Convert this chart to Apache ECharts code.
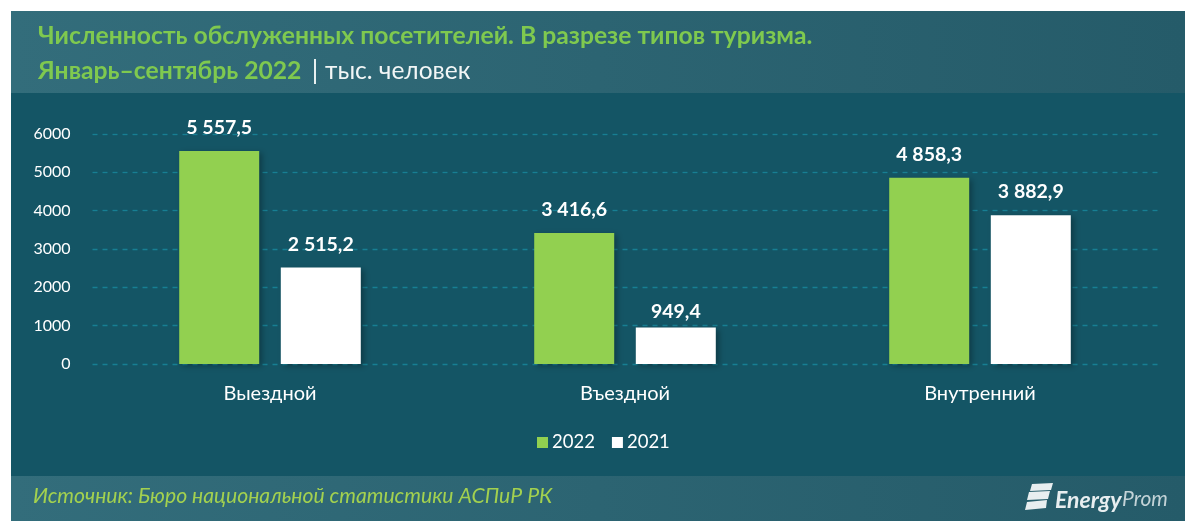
<!DOCTYPE html>
<html><head><meta charset="utf-8">
<style>html,body{margin:0;padding:0;background:#fff}#c{width:1200px;height:527px}</style>
<script src="https://cdn.jsdelivr.net/npm/echarts@6/dist/echarts.min.js"></script>
</head><body><div id="c"></div>
<script>
const categories = ['Выездной','Въездной','Внутренний'];
const values2022 = [5557.5,3416.6,4858.3];
const values2021 = [2515.2,949.4,3882.9];
const yTicks = {min:0,max:6000,interval:1000};
const fmt = v => { const [a,b]=v.toFixed(1).split('.'); return a.replace(/\B(?=(\d{3})+$)/g,' ')+','+b; };
const font = 'Lato, "Open Sans", sans-serif';
const lbl = {show:true,position:'top',distance:13,color:'#fff',fontFamily:font,fontWeight:'bold',fontSize:19.5,formatter:p=>fmt(p.value)};
const shadow = {shadowColor:'rgba(0,0,0,0.3)',shadowBlur:6,shadowOffsetX:3,shadowOffsetY:2};
const grad = {type:'linear',x:0,y:0,x2:1,y2:0,colorStops:[{offset:0,color:'#336d7b'},{offset:1,color:'#255b69'}]};
const chart = echarts.init(document.getElementById('c'),null,{renderer:'canvas'});
chart.setOption({
  animation:false,
  backgroundColor:'#fff',
  grid:{left:92.5,right:42.5,top:134,bottom:163},
  legend:{data:['2022','2021'],top:428,left:532,itemWidth:11,itemHeight:11,itemGap:17,icon:'rect',
    textStyle:{color:'#fff',fontFamily:font,fontSize:18.5,padding:[0,0,0,-1]}},
  xAxis:{type:'category',data:categories,axisLine:{show:false},axisTick:{show:false},
    axisLabel:{color:'#fff',fontFamily:font,fontSize:20,margin:20}},
  yAxis:{type:'value',min:yTicks.min,max:yTicks.max,interval:yTicks.interval,axisLine:{show:false},axisTick:{show:false},
    axisLabel:{color:'#fff',fontFamily:font,fontSize:16,margin:22,formatter:v=>String(v)},
    splitLine:{lineStyle:{color:'#177f93',type:[5,5],width:1.3}}},
  series:[
    {name:'2022',type:'bar',data:values2022,barWidth:80,barGap:'27%',itemStyle:Object.assign({color:'#92d050'},shadow),label:lbl,z:3},
    {name:'2021',type:'bar',data:values2021.map((v,i)=>i===1?{value:v,label:{distance:6}}:v),barWidth:80,itemStyle:Object.assign({color:'#ffffff'},shadow),label:lbl,z:3}
  ],
  graphic:[
    {type:'rect',z:-10,silent:true,shape:{x:11,y:11,width:1174,height:510},style:{fill:'#145565'}},
    {type:'rect',z:-9,silent:true,shape:{x:11,y:11,width:1174,height:82},style:{fill:grad}},
    {type:'rect',z:-9,silent:true,shape:{x:11,y:476,width:1174,height:45},style:{fill:grad}},
    {type:'text',x:38,y:24,style:{text:'Численность обслуженных посетителей. В разрезе типов туризма.',fill:'#7fc94f',font:'bold 24.7px '+font}},
    {type:'text',x:38,y:59,style:{text:'Январь–сентябрь 2022',fill:'#7fc94f',font:'bold 24.7px '+font}},
    {type:'rect',shape:{x:314,y:59,width:2,height:25},style:{fill:'#e8f0f0'}},
    {type:'text',x:325,y:59,style:{text:'тыс. человек',fill:'#f2f6f6',font:'24.5px '+font}},
    {type:'text',x:33,y:486,style:{text:'Источник: Бюро национальной статистики АСПиР РК',fill:'#a3d14f',font:'italic 21.2px '+font}},
    {type:'polygon',shape:{points:[[1032,484],[1053,483],[1051,490],[1030,491]]},style:{fill:'#e8eef0'}},
    {type:'polygon',shape:{points:[[1029,492],[1050,491],[1048,499],[1027,500]]},style:{fill:'#e8eef0'}},
    {type:'polygon',shape:{points:[[1027,502],[1047,500],[1046,508],[1025,510]]},style:{fill:'#e8eef0'}},
    {type:'text',x:1055,y:489,style:{text:'Energy',fill:'#e8eef0',font:'italic bold 23px '+font}},
    {type:'text',x:1122,y:489,style:{text:'Prom',fill:'#c3d3d7',font:'italic 21px '+font}}
  ]
});
</script></body></html>
